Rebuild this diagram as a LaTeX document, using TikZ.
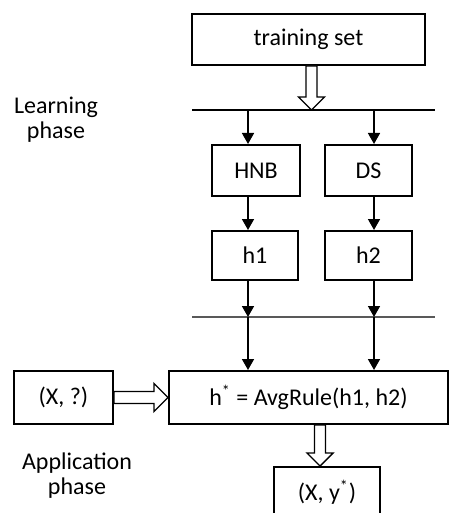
\documentclass[tikz,border=0pt]{standalone}
\usepackage{fontspec}
\setmainfont{Carlito}
\usetikzlibrary{arrows.meta}

\newcommand\boxht{25.5pt}
\newcommand\barl{192}
\newcommand\barr{435}
% hollow arrow, downwards and to the right
\newcommand\fatdown[2]{\draw[fatarrow]
  ([xshift=-2.75pt]#1) -- ([xshift=-2.75pt,yshift=6.5pt]#2) -- ([xshift=-6.5pt,yshift=6.5pt]#2)
  -- (#2) -- ([xshift=6.5pt,yshift=6.5pt]#2) -- ([xshift=2.75pt,yshift=6.5pt]#2)
  -- ([xshift=2.75pt]#1) -- cycle;}
\newcommand\fatright[2]{\draw[fatarrow]
  ([yshift=3pt]#1) -- ([xshift=-7pt,yshift=3pt]#2) -- ([xshift=-7pt,yshift=7pt]#2)
  -- (#2) -- ([xshift=-7pt,yshift=-7pt]#2) -- ([xshift=-7pt,yshift=-3pt]#2)
  -- ([yshift=-3pt]#1) -- cycle;}

\begin{document}
\begin{tikzpicture}[x=0.5pt,y=-0.5pt,
    font=\fontsize{12}{12.5}\selectfont,
    box/.style={draw,line width=1pt,minimum height=\boxht,inner sep=0pt},
    thinarrow/.style={-{Triangle[length=5.5pt,width=6pt]},line width=0.8pt},
    fatarrow/.style={draw,line width=0.7pt,fill=white,line join=miter}]
  \useasboundingbox[fill=white] (0,0) rectangle (449,513);

  % learning phase
  \node[box,minimum width=116.5pt] (train) at (308.5,39.5) {training set};
  \coordinate (bar1) at (\barl,110);
  \coordinate (bar1r) at (\barr,110);
  \draw[line width=0.9pt] (bar1) -- (bar1r);
  \node[box,minimum width=44pt] (hnb) at (256,170.5) {HNB};
  \node[box,minimum width=43.5pt] (ds) at (368.5,170.5) {DS};
  \node[box,minimum width=43pt,minimum height=24.5pt] (h1) at (255,255.5) {h1};
  \node[box,minimum width=43.5pt,minimum height=24.5pt] (h2) at (368.5,255.5) {h2};
  \coordinate (bar2) at (\barl,317);
  \coordinate (bar2r) at (\barr,317);
  \draw[line width=0.9pt,black!65] (bar2) -- (bar2r);
  \coordinate (ca) at (248,110);
  \coordinate (cb) at (374,110);
  \coordinate (cc) at (248,317);
  \coordinate (cd) at (374,317);

  % application phase
  \node[box,minimum width=139.5pt,minimum height=26.5pt] (avg) at (308.5,397.5) {h\textsuperscript{*} = AvgRule(h1, h2)};
  \node[box,minimum width=49.5pt,minimum height=26.5pt] (xq) at (63.5,397.5) {(X, ?)};
  \node[box,minimum width=53pt] (xy) at (327,492.5) {(X, y\textsuperscript{*})};

  \node[align=center] (learn) at (56,120) {Learning\\phase};
  \node[align=center] (appl) at (77,476) {Application\\phase};

  % connectors
  \coordinate (tdown) at ([xshift=1.5pt]train.south);
  \fatdown{tdown}{tdown |- bar1}
  \draw[thinarrow] (ca) -- (ca |- hnb.north);
  \draw[thinarrow] (cb) -- (cb |- ds.north);
  \draw[thinarrow] (ca |- hnb.south) -- (ca |- h1.north);
  \draw[thinarrow] (cb |- ds.south) -- (cb |- h2.north);
  \draw[thinarrow] (ca |- h1.south) -- (cc);
  \draw[thinarrow] (cd |- h2.south) -- (cd);
  \draw[thinarrow] (cc) -- (cc |- avg.north);
  \draw[thinarrow] (cd) -- (cd |- avg.north);
  \fatright{xq.east}{avg.west}
  \coordinate (adown) at ([xshift=-3.5pt]xy.north);
  \fatdown{adown |- avg.south}{adown}
\end{tikzpicture}
\end{document}
